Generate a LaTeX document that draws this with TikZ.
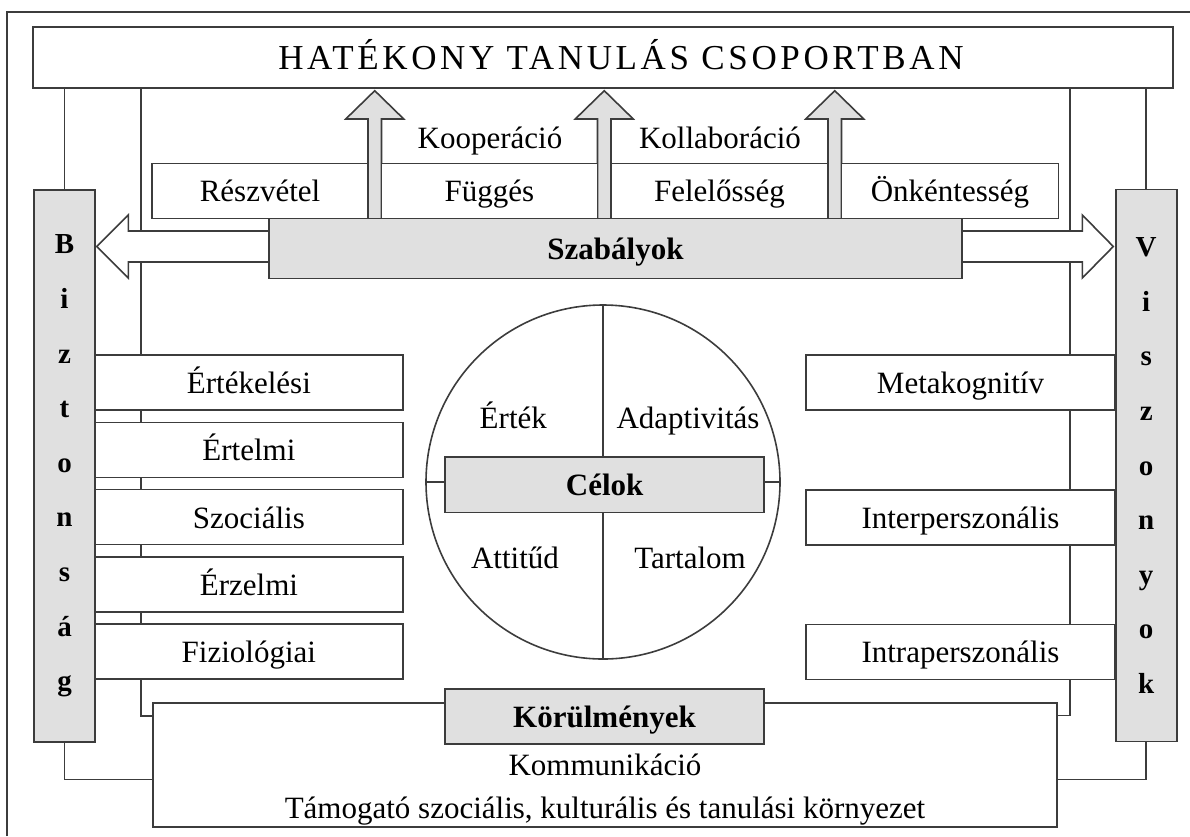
\documentclass[tikz,border=0pt]{standalone}
\usepackage{fontspec}
\setmainfont{Liberation Serif}
\usetikzlibrary{positioning,backgrounds}
\definecolor{vonalszin}{RGB}{60,60,60}
\definecolor{szurkeszin}{RGB}{224,224,224}
\begin{document}
\begin{tikzpicture}[x=1pt,y=-1pt,
	every node/.style={inner sep=0pt,outer sep=0pt},
	doboz/.style={draw=vonalszin,line width=1.6pt,fill=white,minimum height=55pt,
		text height=28pt,text depth=6pt,font=\fontsize{31}{36}\selectfont},
	szurke/.style={doboz,fill=szurkeszin,font=\fontsize{31}{36}\selectfont\bfseries},
	oldal/.style={draw=vonalszin,line width=1.6pt,fill=szurkeszin,minimum width=61pt,
		minimum height=552pt,align=center,font=\fontsize{29}{54.6}\selectfont\bfseries},
	felirat/.style={anchor=base,font=\fontsize{31}{36}\selectfont},
	osszekoto/.style={draw=vonalszin,line width=1.6pt},
	nyil/.style={draw=vonalszin,line width=1.6pt,line join=miter}]
	\useasboundingbox (0,0) rectangle (1190,836);
	
	% cim
	\node (cim) [doboz, minimum width=1140pt, minimum height=61pt] at (603,57.7) {};
	\node (cimfelirat) [anchor=base, font=\fontsize{35}{40}\selectfont\addfontfeature{LetterSpace=10.4}] at (621,69.5) {HATÉKONY TANULÁS CSOPORTBAN};
	
	% felso sor
	\node (reszvetel) [doboz, minimum width=216pt] at (260,190.8) {Részvétel};
	\node (fugges) [doboz, minimum width=216pt, right=13.5pt of reszvetel] {Függés};
	\node (felelosseg) [doboz, minimum width=217pt, right=13.5pt of fugges] {Felelősség};
	\node (onkentesseg) [doboz, minimum width=217pt, right=13.5pt of felelosseg] {Önkéntesség};
	\node (kooperacio) [felirat] at (490,148.3) {Kooperáció};
	\node (kollaboracio) [felirat] at (720,148.3) {Kollaboráció};
	\node (szabalyok) [szurke, minimum width=693pt, minimum height=60pt] at (615.5,248.3) {Szabályok};
	
	% oldalak
	\node (biztonsag) [oldal] at (64.5,466) {B\\i\\z\\t\\o\\n\\s\\á\\g};
	\node (viszonyok) [oldal] at (1146.2,465.5) {V\\i\\s\\z\\o\\n\\y\\o\\k};
	
	% bal oszlop
	\node (ertekelesi) [doboz, minimum width=307.7pt] at (248.9,382.5) {Értékelési};
	\node (ertelmi) [doboz, minimum width=307.7pt, below=12.3pt of ertekelesi] {Értelmi};
	\node (szocialis) [doboz, minimum width=307.7pt, below=12.3pt of ertelmi] {Szociális};
	\node (erzelmi) [doboz, minimum width=307.7pt, below=12.3pt of szocialis] {Érzelmi};
	\node (fiziologiai) [doboz, minimum width=307.7pt, below=12.3pt of erzelmi] {Fiziológiai};
	
	% jobb oszlop
	\node (metakognitiv) [doboz, minimum width=309pt] at (960.5,382.2) {Metakognitív};
	\node (interperszonalis) [doboz, minimum width=309pt] at (960.5,517.2) {Interperszonális};
	\node (intraperszonalis) [doboz, minimum width=309pt] at (960.5,651.8) {Intraperszonális};
	
	% kor
	\node (kor) [draw=vonalszin, line width=1.6pt, circle, minimum size=354pt] at (603,482) {};
	\node (celok) [szurke, minimum width=319pt, minimum height=55.6pt] at (604.7,484.5) {Célok};
	\node (ertek) [felirat] at (513.3,428.3) {Érték};
	\node (adaptivitas) [felirat] at (688,428.3) {Adaptivitás};
	\node (attitud) [felirat] at (515,568.3) {Attitűd};
	\node (tartalom) [felirat] at (690,568.3) {Tartalom};
	
	% korulmenyek
	\node (korulmenyek) [doboz, minimum width=904pt, minimum height=124pt] at (605,765) {};
	\node (korulcim) [szurke, minimum width=319pt] at (604.5,716.5) {Körülmények};
	\node (kommunikacio) [felirat] at (605,775) {Kommunikáció};
	\node (kornyezet) [felirat] at (605,818) {Támogató szociális, kulturális és tanulási környezet};
	
	\coordinate (bl) at (140.7,716);
	\coordinate (bl2) at (64.5,779.3);
	\coordinate (br) at (1070,715.3);
	\coordinate (br2) at (1146.2,779.3);
	
	\begin{scope}[on background layer]
	\draw[osszekoto] (7,836) -- (7,12) -- (1190,12);
	\draw[osszekoto] (cim.south -| biztonsag.north) -- (biztonsag.north);
	\draw[osszekoto] (cim.south -| viszonyok.north) -- (viszonyok.north);
	\draw[osszekoto] (cim.south -| bl) -- (bl) -- (bl -| korulmenyek.west);
	\draw[osszekoto] (cim.south -| br) -- (br) -- (br -| korulmenyek.east);
	\draw[osszekoto] (biztonsag.south) -- (bl2) -- (bl2 -| korulmenyek.west);
	\draw[osszekoto] (viszonyok.south) -- (br2) -- (br2 -| korulmenyek.east);
	\draw[osszekoto] (kor.north) -- (kor.south);
	\draw[osszekoto] (kor.west) -- (kor.east);
	
	% nyilak
	\draw[nyil, fill=white] (269,231) -- (128.3,231) -- (128.3,215) -- (96.7,246.5) -- (128.3,278) -- (128.3,262) -- (269,262);
	\draw[nyil, fill=white] (962,231) -- (1082.3,231) -- (1082.3,215) -- (1113.3,246.5) -- (1082.3,278) -- (1082.3,262) -- (962,262);
	\draw[nyil, fill=szurkeszin] (368,218.3) -- (368,119) -- (345.75,119) -- (374.75,90.7) -- (403.75,119) -- (381.5,119) -- (381.5,218.3);
	\draw[nyil, fill=szurkeszin] (597.5,218.3) -- (597.5,119) -- (575.25,119) -- (604.25,90.7) -- (633.25,119) -- (611,119) -- (611,218.3);
	\draw[nyil, fill=szurkeszin] (828,218.3) -- (828,119) -- (805.75,119) -- (834.75,90.7) -- (863.75,119) -- (841.5,119) -- (841.5,218.3);
	\end{scope}
\end{tikzpicture}
\end{document}
